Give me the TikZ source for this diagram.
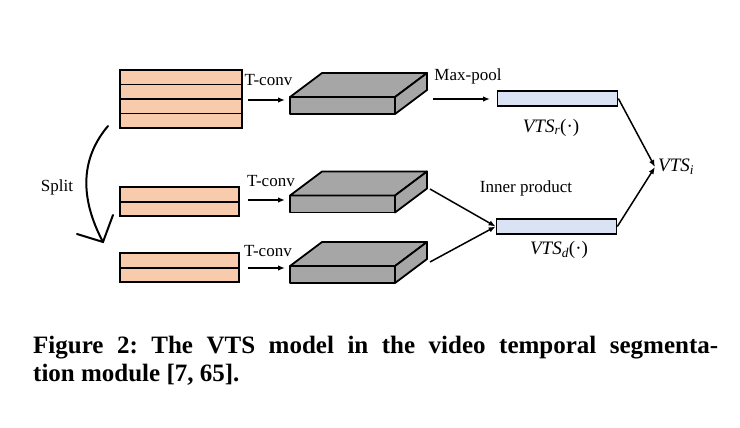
\documentclass[tikz,border=0pt]{standalone}
\usepackage{fontspec}
\setmainfont{Liberation Serif}
\usetikzlibrary{positioning, arrows.meta, calc}

\definecolor{peach}{HTML}{F8CBAD}
\definecolor{slabgray}{HTML}{A6A6A6}
\definecolor{paleblue}{HTML}{DAE3F3}

\tikzset{
  band/.style={draw, line width=1.9pt, fill=peach, minimum width=119pt, minimum height=14.5pt, inner sep=0pt, outer sep=0pt},
  feat/.style={draw, line width=1.7pt, fill=paleblue, minimum width=120pt, minimum height=15pt, inner sep=0pt},
  slab/.style={draw, line width=1.8pt, fill=slabgray, line join=round},
  lbl/.style={font=\fontsize{17}{20}\selectfont, inner sep=0pt, anchor=base},
  mlbl/.style={font=\fontsize{19}{22}\selectfont\itshape, inner sep=0pt, anchor=base},
  figcap/.style={font=\fontsize{25}{29}\selectfont\bfseries\frenchspacing, inner sep=0pt, anchor=base west},
  flow/.style={-{Latex[length=7pt,width=5.5pt]}, line width=1.5pt}
}

\begin{document}
\begin{tikzpicture}[x=1pt, y=-1pt]
\useasboundingbox (0,0) rectangle (740,428);

% input stacks
\node[band, minimum width=122pt] (a1) at (181,77.3) {};
\node[band, minimum width=122pt, below=0pt of a1] (a2) {};
\node[band, minimum width=122pt, below=0pt of a2] (a3) {};
\node[band, minimum width=122pt, below=0pt of a3] (a4) {};

\node[band] (b1) at (179.5,194.3) {};
\node[band, below=0pt of b1] (b2) {};

\node[band] (c1) at (179.5,260.5) {};
\node[band, below=0pt of c1] (c2) {};

% split
\coordinate (sp0) at (108,126);
\coordinate (sp1) at (103,242);
\draw[line width=2pt, line cap=round]
  (sp0) .. controls (75,165) and (85,208) .. (sp1);
\draw[line width=2pt, line cap=round, line join=miter] (77,234) -- (sp1) -- (113,215);
\node[lbl] (split) at (57,191) {Split};

% slabs
\foreach \f in {97, 195.5, 266} {
  \draw[slab] (290,\f) rectangle (395,\f+17);
  \draw[slab] (290,\f) -- (322,\f-24) -- (427,\f-24) -- (395,\f) -- cycle;
  \draw[slab] (395,\f) -- (427,\f-24) -- (427,\f-7) -- (395,\f+17) -- cycle;
}
\coordinate (ta) at (433,99);
\coordinate (tb) at (430,189);
\coordinate (tc) at (430,262);

% T-conv arrows
\coordinate (ia) at (248,100);
\coordinate (oa) at (285,100);
\coordinate (ib) at (248,200);
\coordinate (ob) at (285,200);
\coordinate (ic) at (248,268);
\coordinate (oc) at (285,268);
\draw[flow] (ia) -- (oa);
\draw[flow] (ib) -- (ob);
\draw[flow] (ic) -- (oc);
\node[lbl] (tca) at (268.5,86) {T-conv};
\node[lbl] (tcb) at (271,186) {T-conv};
\node[lbl] (tcc) at (268,256.5) {T-conv};

% VTS features
\node[feat] (vr) at (557.5,98.5) {};
\node[feat] (vd) at (556.5,226.5) {};
\node[mlbl] (vrl) at (551,132) {VTS\textsubscript{r}\textup{(·)}};
\node[mlbl] (vdl) at (559,254) {VTS\textsubscript{d}\textup{(·)}};
\node[mlbl, anchor=west, inner sep=3pt] (vi) at (655,167) {VTS\textsubscript{i}};

\coordinate (pa) at (490,99);
\draw[flow] (ta) -- (pa);
\node[lbl] (mp) at (468,81) {Max-pool};

\draw[flow] (tb) -- (vd.west);
\draw[flow] (tc) -- (vd.west);
\node[lbl] (ip) at (526,193) {Inner product};

\draw[flow] (vr.east) -- (vi.west);
\draw[flow] (vd.east) -- (vi.west);

% caption
\node[figcap] (cap1) at (33,353) {\makebox[685pt][s]{Figure 2: The VTS model in the video temporal segmenta-}};
\node[figcap] (cap2) at (33,381) {tion module [7, 65].};
\end{tikzpicture}
\end{document}
